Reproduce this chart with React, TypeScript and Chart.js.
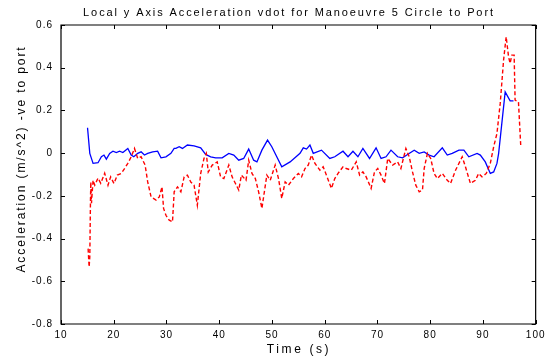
import React, { useEffect, useRef } from "react";
import { Chart, registerables } from "chart.js";

Chart.register(...registerables);

const chartTitle = "Local y Axis Acceleration vdot for Manoeuvre 5 Circle to Port";
const xTitle = "Time (s)";
const yTitle = "Acceleration (m/s^2) -ve to port";

const xTicks = [10, 20, 30, 40, 50, 60, 70, 80, 90, 100];
const yTicks = [-0.8, -0.6, -0.4, -0.2, 0, 0.2, 0.4, 0.6];

const timeBlue = [
  15.03, 15.46, 16.08, 17.02, 17.66, 18.15, 18.6, 19.23, 19.85, 20.49, 21.11, 21.73, 22.67, 23.31, 23.8,
  24.55, 25.19, 25.82, 26.44, 27.38, 28.32, 28.96, 29.9, 30.84, 31.46, 31.78, 32.41, 33.03, 33.97, 35.23,
  36.49, 37.43, 38.38, 39.32, 40.56, 41.82, 42.76, 43.7, 44.64, 45.59, 46.53, 47.15, 48.09, 49.16, 49.97,
  51.86, 53.44, 55.32, 55.94, 56.56, 57.2, 57.83, 59.39, 60.97, 61.91, 63.47, 64.42, 65.36, 66.3, 67.24,
  68.5, 69.74, 70.69, 71.63, 72.57, 73.83, 74.77, 75.71, 76.97, 77.92, 78.86, 79.8, 80.74, 82.3, 83.24,
  84.18, 85.45, 86.39, 87.33, 88.89, 89.51, 90.45, 91.4, 92.04, 92.66, 92.98, 94.22, 95.16, 95.8,
];
const accelBlue = [
  0.119, -0.001, -0.048, -0.045, -0.017, -0.009, -0.028, -0.001, 0.009, 0.003, 0.009, 0.003, 0.022, -0.009, -0.017,
  -0.001, 0.006, -0.009, -0.001, 0.006, 0.009, -0.022, -0.017, -0.001, 0.022, 0.022, 0.03, 0.022, 0.038, 0.034,
  0.025, -0.006, -0.017, -0.022, -0.022, -0.001, -0.009, -0.033, -0.025, 0.019, -0.033, -0.041, 0.014, 0.061, 0.03,
  -0.064, -0.041, -0.001, 0.025, 0.019, 0.038, -0.001, 0.014, -0.025, -0.017, 0.009, -0.017, 0.009, -0.017, 0.022,
  -0.025, 0.025, -0.025, -0.017, 0.014, -0.017, -0.022, -0.006, 0.014, -0.001, 0.006, -0.009, -0.017, 0.025, -0.009,
  -0.001, 0.014, 0.014, -0.017, -0.001, -0.009, -0.041, -0.095, -0.088, -0.048, -0.001, 0.287, 0.245, 0.245,
];

const timeRed = [
  15.14, 15.33, 15.46, 15.59, 15.65, 15.78, 16.08, 16.4, 17.02, 17.53, 18.28, 18.91, 19.41, 20.04, 20.68,
  21.43, 22.05, 22.67, 23.31, 23.93, 24.55, 25.19, 25.95, 26.44, 27.08, 28.02, 28.64, 29.15, 29.45, 29.9,
  30.52, 31.14, 31.46, 32.09, 32.73, 33.35, 33.97, 34.61, 35.23, 35.85, 36.49, 37.11, 37.55, 37.92, 38.68,
  39.62, 40.26, 40.88, 41.82, 42.44, 43.08, 43.7, 44.21, 45.08, 45.59, 46.21, 46.85, 47.47, 48.09, 49.03,
  49.67, 50.61, 51.24, 51.86, 52.5, 53.12, 54.06, 55.0, 55.62, 56.26, 56.88, 57.5, 58.15, 59.09, 59.71,
  60.33, 61.27, 61.91, 62.53, 63.47, 64.1, 65.04, 65.98, 66.62, 67.24, 67.86, 68.8, 69.44, 70.06, 70.69,
  71.33, 71.95, 72.89, 73.83, 74.45, 75.39, 76.03, 76.65, 77.27, 77.92, 78.54, 78.86, 79.48, 80.1, 80.74,
  81.36, 82.3, 83.24, 83.86, 84.81, 86.07, 86.69, 87.63, 88.57, 89.2, 89.83, 90.64, 91.4, 92.04, 92.66,
  93.28, 93.92, 94.41, 94.86, 95.16, 95.48, 95.92, 96.1, 96.74, 97.18,
];
const accelRed = [
  -0.447, -0.533, -0.486, -0.22, -0.135, -0.234, -0.127, -0.15, -0.117, -0.141, -0.094, -0.15, -0.111, -0.142, -0.103,
  -0.095, -0.072, -0.048, -0.017, 0.022, -0.025, -0.017, -0.056, -0.135, -0.205, -0.22, -0.205, -0.158, -0.259, -0.291,
  -0.314, -0.322, -0.181, -0.158, -0.181, -0.111, -0.103, -0.135, -0.15, -0.244, -0.095, -0.025, -0.001, -0.088, -0.056,
  -0.041, -0.111, -0.119, -0.056, -0.111, -0.142, -0.173, -0.103, -0.127, -0.033, -0.095, -0.119, -0.181, -0.259, -0.103,
  -0.127, -0.056, -0.119, -0.212, -0.135, -0.15, -0.119, -0.095, -0.111, -0.072, -0.056, -0.009, -0.048, -0.08, -0.064,
  -0.103, -0.165, -0.119, -0.095, -0.064, -0.072, -0.08, -0.041, -0.103, -0.088, -0.111, -0.165, -0.088, -0.072, -0.103,
  -0.142, -0.025, -0.056, -0.041, -0.072, 0.022, -0.017, -0.088, -0.15, -0.181, -0.173, -0.072, -0.001, -0.025, -0.095,
  -0.119, -0.095, -0.127, -0.142, -0.08, -0.017, -0.064, -0.142, -0.127, -0.095, -0.111, -0.095, -0.048, 0.03, 0.092,
  0.233, 0.436, 0.545, 0.451, 0.421, 0.459, 0.459, 0.248, 0.24, 0.03,
];

const FONT = "'Liberation Sans', Arial, sans-serif";

const framePlugin = {
  id: "frameAndText",
  beforeDraw(chart: any) {
    chart.ctx.letterSpacing = "1px";
  },
  afterDatasetsDraw(chart: any) {
    const { ctx, chartArea } = chart;
    const xs = chart.scales.x;
    const ys = chart.scales.y;
    const { left, right, top, bottom } = chartArea;
    const len = 4;
    ctx.save();
    ctx.strokeStyle = "#000";
    ctx.lineWidth = 1.2;
    ctx.beginPath();
    ctx.rect(left, top, right - left, bottom - top);
    ctx.stroke();
    ctx.beginPath();
    ctx.lineWidth = 1;
    for (const t of xTicks) {
      const px = Math.round(xs.getPixelForValue(t)) + 0.5;
      ctx.moveTo(px, bottom);
      ctx.lineTo(px, bottom - len);
      ctx.moveTo(px, top);
      ctx.lineTo(px, top + len);
    }
    for (const v of yTicks) {
      const py = Math.round(ys.getPixelForValue(v)) + 0.5;
      ctx.moveTo(left, py);
      ctx.lineTo(left + len, py);
      ctx.moveTo(right, py);
      ctx.lineTo(right - len, py);
    }
    ctx.stroke();
    ctx.restore();
  },
  afterDraw(chart: any) {
    const { ctx } = chart;
    ctx.save();
    ctx.fillStyle = "#000";
    ctx.textAlign = "center";
    ctx.textBaseline = "middle";
    ctx.font = `11px ${FONT}`;
    ctx.letterSpacing = "1.9px";
    ctx.fillText(chartTitle, 289, 12.5);
    ctx.font = `12px ${FONT}`;
    ctx.letterSpacing = "2.6px";
    ctx.fillText(xTitle, 299, 350);
    ctx.translate(22, 159);
    ctx.rotate(-Math.PI / 2);
    ctx.font = `12px ${FONT}`;
    ctx.letterSpacing = "1.9px";
    ctx.fillText(yTitle, 0, 0);
    ctx.restore();
  },
};

export default function App() {
  const ref = useRef<HTMLCanvasElement | null>(null);
  useEffect(() => {
    if (!ref.current) return;
    const chart = new Chart(ref.current, {
      type: "line",
      data: {
        datasets: [
          {
            label: "blue",
            data: timeBlue.map((t, i) => ({ x: t, y: accelBlue[i] })),
            borderColor: "#0000ff",
            borderWidth: 1.3,
            pointRadius: 0,
            tension: 0,
            order: 1,
          },
          {
            label: "red",
            data: timeRed.map((t, i) => ({ x: t, y: accelRed[i] })),
            borderColor: "#ff0000",
            borderWidth: 1.4,
            borderDash: [4, 2.5],
            pointRadius: 0,
            tension: 0,
            order: 0,
          },
        ],
      },
      options: {
        responsive: false,
        animation: false,
        layout: { padding: { top: 25, right: 10, left: 0, bottom: 0 } },
        plugins: {
          legend: { display: false },
          tooltip: { enabled: false },
          title: { display: false },
        },
        scales: {
          x: {
            type: "linear",
            min: 10,
            max: 100,
            afterBuildTicks: (s: any) => {
              s.ticks = xTicks.map((v) => ({ value: v }));
            },
            afterFit: (s: any) => {
              s.height = 39;
            },
            grid: { display: false, drawTicks: false },
            border: { display: false },
            ticks: {
              color: "#000",
              font: { family: FONT, size: 10 },
              padding: 5,
              maxRotation: 0,
              autoSkip: false,
              callback: (v: any) => String(v),
            },
          },
          y: {
            type: "linear",
            min: -0.8,
            max: 0.6,
            afterBuildTicks: (s: any) => {
              s.ticks = yTicks.map((v) => ({ value: v }));
            },
            afterFit: (s: any) => {
              s.width = 61;
            },
            grid: { display: false, drawTicks: false },
            border: { display: false },
            ticks: {
              color: "#000",
              font: { family: FONT, size: 10 },
              padding: 8,
              autoSkip: false,
              callback: (v: any) => String(Math.round(Number(v) * 10) / 10),
            },
          },
        },
      },
      plugins: [framePlugin],
    });
    return () => chart.destroy();
  }, []);
  return (
    <div style={{ position: "fixed", left: 0, top: 0, width: 549, height: 363, background: "#fff" }}>
      <canvas ref={ref} width={549} height={363} />
    </div>
  );
}
